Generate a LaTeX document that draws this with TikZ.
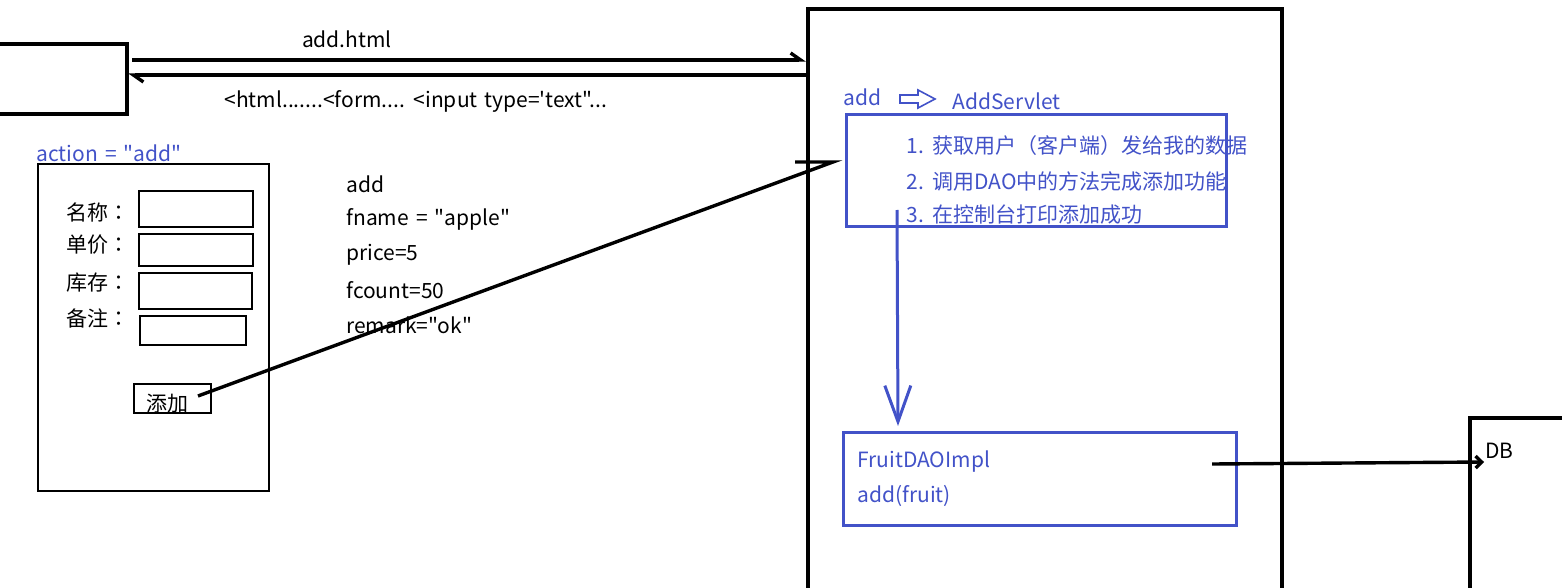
\documentclass[tikz,border=0pt]{standalone}
\usepackage{fontspec}
\setmainfont{Noto Sans CJK SC}[Ligatures=TeXOff]
\newfontfamily\tcfont{Noto Sans CJK TC}
\usetikzlibrary{arrows.meta}
\definecolor{penblue}{RGB}{66,82,200}
\newcommand{\lblfont}{\fontsize{10.5}{12}\selectfont\spaceskip=0.34em plus 0.1em\relax}
\tikzstyle{thickbox}=[draw=black,line width=1.6pt,inner sep=0pt,outer sep=0pt]
\tikzstyle{thinbox}=[draw=black,line width=0.7pt,inner sep=0pt,outer sep=0pt]
\tikzstyle{bluebox}=[draw=penblue,line width=1.5pt,inner sep=0pt,outer sep=0pt]
\tikzstyle{lbl}=[inner sep=0pt,anchor=west,font=\lblfont]
\tikzstyle{bluelbl}=[lbl,text=penblue]
\tikzstyle{msg}=[line width=1.7pt]
\newcommand{\pxbox}[6]{% name, style, x1, y1, x2, y2
  \node[#2, minimum width={(#5-#3)*0.5pt}, minimum height={(#6-#4)*0.5pt}] (#1) at ({(#3+#5)/2},{(#4+#6)/2}) {};
}
\newcommand{\fcolon}{{\tcfont ：}}
\begin{document}
\begin{tikzpicture}[x=0.5pt,y=-0.5pt]
  \useasboundingbox (0,0) rectangle (1562,588);
  \begin{scope}
  \clip (0,0) rectangle (1562,588);
  % browser, server and database
  \pxbox{browser}{thickbox}{-20}{44}{127}{114}
  \pxbox{server}{thickbox}{808}{9}{1282}{620}
  \pxbox{db}{thickbox}{1470}{418}{1600}{620}
  \end{scope}
  % request and response
  \coordinate (reqA) at (132,60);
  \coordinate (reqB) at (806,60);
  \coordinate (respA) at (806,75);
  \coordinate (respB) at (128,75);
  \draw[msg,-{Straight Barb[harpoon,length=5pt,width=7pt]}] (reqA) -- (reqB);
  \draw[msg,-{Straight Barb[harpoon,length=5pt,width=7pt]}] (respA) -- (respB);
  \node[lbl,anchor=center] (reqlbl) at (347,39) {add.html};
  \node[lbl,anchor=center] (resplbl) at (416,101) {<html.......<form.... <input type='text"...};
  % the form
  \node[bluelbl] (action) at (36,153) {action = "add"};
  \pxbox{form}{thinbox}{38}{164}{269}{491}
  \foreach \fld/\lab/\ly/\xa/\ya/\xb/\yb in {nm/名称/212/139/191/253/227, pr/单价/245/139/234/253/266, st/库存/283/139/273/252/309, rm/备注/318/140/316/246/345} {
    \node[lbl] (lab-\fld) at (66,\ly) {\lab\fcolon};
    \pxbox{in-\fld}{thinbox}{\xa}{\ya}{\xb}{\yb}
  }
  \pxbox{addbtn}{thinbox}{134}{384}{211}{413}
  \node[lbl,anchor=center] (btnlbl) at (167,404) {添加};
  % submitted params
  \foreach \i/\t in {0/add, 1/fname = "apple", 2/price=5, 3/fcount=50, 4/remark="ok"} {
    \node[lbl] (param-\i) at (346,184+35.3*\i) {\t};
  }
  \coordinate (btnpt) at (198,396);
  \coordinate (srvin) at (833,162);
  \draw[msg] (btnpt) -- (srvin) -- ++(-38,0);
  % servlet
  \node[bluelbl] (urlpat) at (843,97) {add};
  \draw[penblue,line width=0.8pt] (900,95) -- (918,95) -- (918,90) -- (935,99) -- (918,108) -- (918,103) -- (900,103) -- cycle;
  \node[bluelbl] (servlet) at (952,101) {AddServlet};
  \pxbox{servletbox}{bluebox}{846}{115}{1226}{227}
  \node[bluelbl] (step1) at (906,146) {1. 获取用户（客户端）发给我的数据};
  \node[bluelbl] (step2) at (906,181) {2. 调用DAO中的方法完成添加功能};
  \node[bluelbl] (step3) at (906,215) {3. 在控制台打印添加成功};
  % dao
  \coordinate (flowtop) at (897,210);
  \coordinate (flowbot) at (898,426);
  \draw[penblue,line width=1.5pt,-{Straight Barb[length=18pt,width=13pt]}] (flowtop) -- (flowbot);
  \pxbox{dao}{bluebox}{843}{432}{1236}{525}
  \node[bluelbl] (daoname) at (857,462) {FruitDAOImpl};
  \node[bluelbl] (daoadd) at (857,496) {add(fruit)};
  \coordinate (daoout) at (1212,464);
  \coordinate (dbin) at (1484,462);
  \draw[msg,-{Straight Barb[length=3pt,width=6pt]}] (daoout) -- (dbin);
  \node[lbl] (dblbl) at (1485,451) {DB};
\end{tikzpicture}
\end{document}
